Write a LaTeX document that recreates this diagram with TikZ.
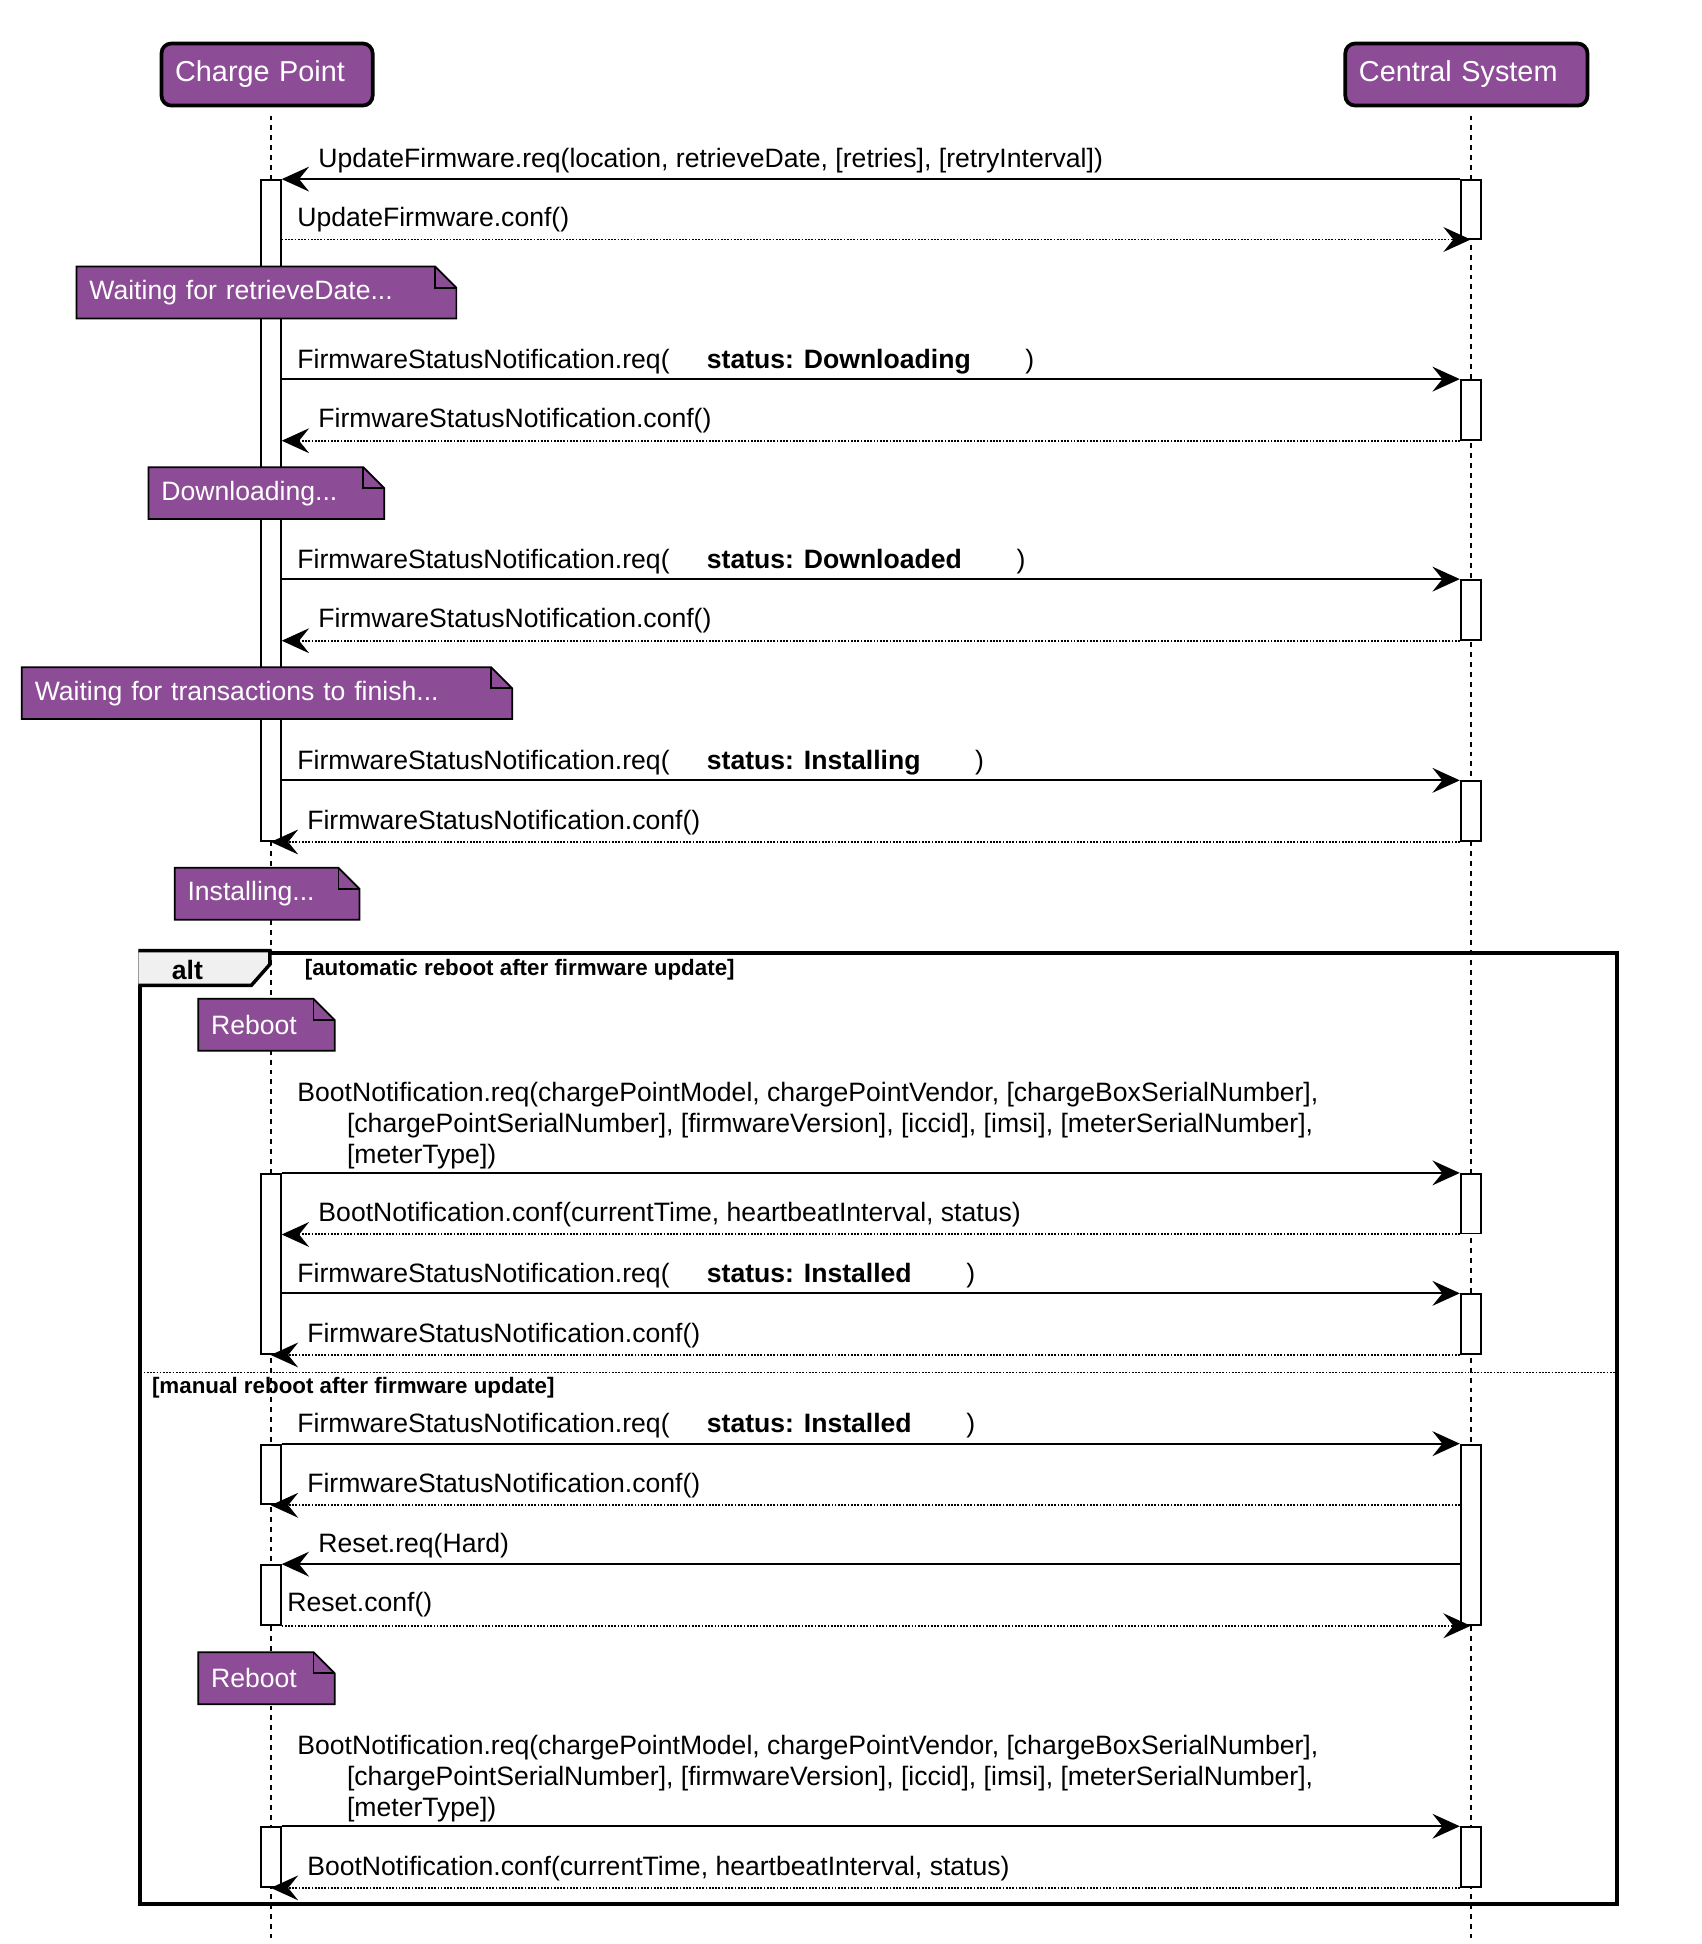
\documentclass[tikz,border=0pt]{standalone}
\usepackage{fontspec}
\setmainfont{Liberation Sans}
\usetikzlibrary{arrows.meta,positioning}

\definecolor{cppurple}{RGB}{141,76,150}
\newcommand{\msgfont}{\fontsize{10.7}{12.5}\selectfont}
\newcommand{\fsreq}[1]{FirmwareStatusNotification.req(\hspace{15pt}\textbf{status: #1}\hspace{22pt})}
\newcommand{\bootreq}{BootNotification.req(chargePointModel, chargePointVendor, [chargeBoxSerialNumber],\\
  \hspace*{20pt}[chargePointSerialNumber], [firmwareVersion], [iccid], [imsi], [meterSerialNumber],\\
  \hspace*{20pt}[meterType])}
% folded corner of a note node
\newcommand{\notefold}[1]{%
  \fill[white] ([xshift=-8.5pt]#1.north east) -- (#1.north east) -- ([yshift=-8.5pt]#1.north east) -- cycle;
  \draw[line width=0.7pt] (#1.south west) -- (#1.north west) -- ([xshift=-8.5pt]#1.north east)
    -- ([yshift=-8.5pt]#1.north east) -- (#1.south east) -- cycle;
  \draw[line width=0.7pt] ([xshift=-8.5pt]#1.north east) |- ([yshift=-8.5pt]#1.north east);
}

\begin{document}
\begin{tikzpicture}[
    x=0.5pt, y=-0.5pt,
    actor/.style={rectangle, draw, line width=1.5pt, rounded corners=4pt, fill=cppurple, text=white,
      font=\fontsize{11.6}{13}\selectfont, inner xsep=5.5pt, minimum height=25pt, align=left},
    lifeline/.style={line width=0.8pt, dash pattern=on 2pt off 2pt},
    actbar/.style={rectangle, draw, fill=white, line width=0.8pt, minimum width=8pt, inner sep=0pt},
    note/.style={rectangle, fill=cppurple, text=white, font=\msgfont, inner xsep=5pt, minimum height=20.5pt, align=left},
    lbl/.style={font=\msgfont, anchor=west, inner sep=0pt, align=left},
    framelbl/.style={font=\fontsize{9}{11}\selectfont\bfseries, anchor=west, inner sep=0pt},
    call/.style={line width=0.8pt, -{Stealth[length=11pt,width=10pt,inset=4pt]}},
    reply/.style={call, dash pattern=on 0.7pt off 0.6pt}
]
\useasboundingbox (0,0) rectangle (1370,1565);

% Actors
\node[actor, text width=74pt] (cp) at (215,60) {Charge Point};
\node[actor, text width=86.5pt] (cs) at (1180.5,60) {Central System};

% Lifelines
\coordinate (cptop) at (218,93);
\coordinate (cpend) at (218,1560);
\coordinate (cstop) at (1184,93);
\coordinate (csend) at (1184,1560);
\draw[lifeline] (cptop) -- (cpend);
\draw[lifeline] (cstop) -- (csend);

% alt frame
\node[draw, line width=1.7pt, minimum width=594.5pt, minimum height=383pt, inner sep=0pt] (alt) at (707.5,1150) {};
\draw[fill=gray!12, line width=1.4pt] (alt.north west) -- ++(106,0) -- ++(0,11) -- ++(-15,17) -- ++(-91,0);
\node[framelbl, font=\fontsize{10.7}{12}\selectfont\bfseries] (altlbl) at (138,781) {alt};
\node[framelbl] (auto) at (245,781) {[automatic reboot after firmware update]};
\coordinate (sepl) at (113,1105);
\coordinate (sepr) at (1302,1105);
\draw[line width=0.7pt, dash pattern=on 0.7pt off 0.6pt] (sepl) -- (sepr);
\node[framelbl] (manual) at (122,1117) {[manual reboot after firmware update]};

% Activation bars
\node[actbar, minimum height=266pt] (cp1) at (218,411) {};
\node[actbar, minimum height=72.5pt] (cp2) at (218,1017.5) {};
\node[actbar, minimum height=24pt] (cp3) at (218,1187) {};
\node[actbar, minimum height=24pt] (cp4) at (218,1284) {};
\node[actbar, minimum height=24pt] (cp5) at (218,1495) {};
\node[actbar, minimum height=23.5pt] (cs1) at (1184,168.5) {};
\node[actbar, minimum height=24pt] (cs2) at (1184,330) {};
\node[actbar, minimum height=24pt] (cs3) at (1184,491) {};
\node[actbar, minimum height=24pt] (cs4) at (1184,653) {};
\node[actbar, minimum height=24pt] (cs5) at (1184,969) {};
\node[actbar, minimum height=24pt] (cs6) at (1184,1066) {};
\node[actbar, minimum height=72.5pt] (cs7) at (1184,1235.5) {};
\node[actbar, minimum height=24pt] (cs8) at (1184,1495) {};

% Notes
\node[note, text width=142.5pt] (n1) at (214.5,235.5) {Waiting for retrieveDate...};
\notefold{n1}
\node[note, text width=84.5pt] (n2) at (214.5,397) {Downloading...};
\notefold{n2}
\node[note, text width=187pt] (n3) at (215,558) {Waiting for transactions to finish...};
\notefold{n3}
\node[note, text width=64pt] (n4) at (215,719.5) {Installing...};
\notefold{n4}
\node[note, text width=44.5pt] (n5) at (214.5,825) {Reboot};
\notefold{n5}
\node[note, text width=44.5pt] (n6) at (214.5,1351) {Reboot};
\notefold{n6}

% Messages
\draw[call] (cs1.north west) -- (cp1.north east);
\node[lbl] (l1) at (256,129) {UpdateFirmware.req(location, retrieveDate, [retries], [retryInterval])};
\draw[reply] (cp1.east |- cs1.south) -- (cs1.south);
\node[lbl] (l2) at (239,177) {UpdateFirmware.conf()};

\draw[call] (cp1.east |- cs2.north) -- (cs2.north west);
\node[lbl] (l3) at (239,291) {\fsreq{Downloading}};
\draw[reply] (cs2.south west) -- (cp1.east |- cs2.south);
\node[lbl] (l4) at (256,339) {FirmwareStatusNotification.conf()};

\draw[call] (cp1.east |- cs3.north) -- (cs3.north west);
\node[lbl] (l5) at (239,452) {\fsreq{Downloaded}};
\draw[reply] (cs3.south west) -- (cp1.east |- cs3.south);
\node[lbl] (l6) at (256,500) {FirmwareStatusNotification.conf()};

\draw[call] (cp1.east |- cs4.north) -- (cs4.north west);
\node[lbl] (l7) at (239,614) {\fsreq{Installing}};
\draw[reply] (cs4.south west) -- (cp1.south);
\node[lbl] (l8) at (247,662) {FirmwareStatusNotification.conf()};

% automatic reboot
\draw[call] (cp2.north east) -- (cs5.north west);
\node[lbl] (l9) at (239,906) {\bootreq};
\draw[reply] (cs5.south west) -- (cp2.east |- cs5.south);
\node[lbl] (l10) at (256,978) {BootNotification.conf(currentTime, heartbeatInterval, status)};
\draw[call] (cp2.east |- cs6.north) -- (cs6.north west);
\node[lbl] (l11) at (239,1027) {\fsreq{Installed}};
\draw[reply] (cs6.south west) -- (cp2.south);
\node[lbl] (l12) at (247,1075) {FirmwareStatusNotification.conf()};

% manual reboot
\draw[call] (cp3.north east) -- (cs7.north west);
\node[lbl] (l13) at (239,1148) {\fsreq{Installed}};
\draw[reply] (cs7.west |- cp3.south) -- (cp3.south);
\node[lbl] (l14) at (247,1196) {FirmwareStatusNotification.conf()};
\draw[call] (cs7.west |- cp4.north) -- (cp4.north east);
\node[lbl] (l15) at (256,1244) {Reset.req(Hard)};
\draw[reply] (cp4.south east) -- (cs7.south);
\node[lbl] (l16) at (231,1292) {Reset.conf()};
\draw[call] (cp5.north east) -- (cs8.north west);
\node[lbl] (l17) at (239,1432) {\bootreq};
\draw[reply] (cs8.south west) -- (cp5.south);
\node[lbl] (l18) at (247,1504) {BootNotification.conf(currentTime, heartbeatInterval, status)};

\end{tikzpicture}
\end{document}
